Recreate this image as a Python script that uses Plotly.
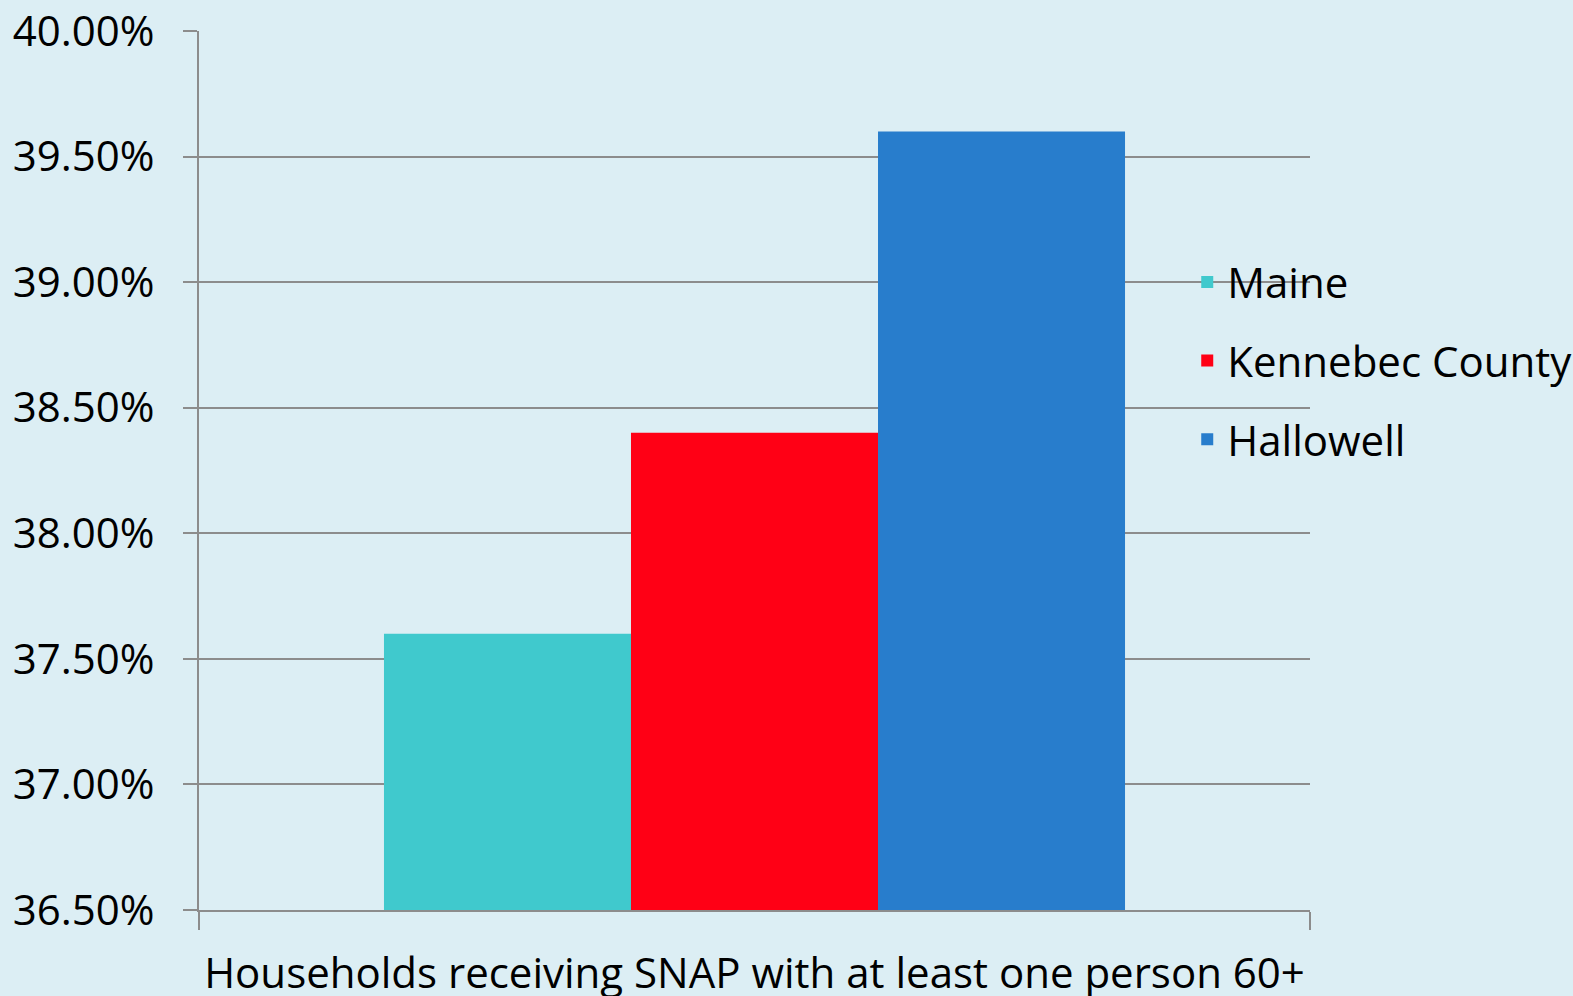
import plotly.graph_objects as go

# values (percent)
category = ["Households receiving SNAP with at least one person 60+"]
places = ["Maine", "Kennebec County", "Hallowell"]
share = [37.6, 38.4, 39.6]
colors = ["#40C9CD", "#FF0015", "#287DCC"]

y_ticks = [36.5, 37.0, 37.5, 38.0, 38.5, 39.0, 39.5, 40.0]
y_labels = ["36.50%", "37.00%", "37.50%", "38.00%", "38.50%", "39.00%", "39.50%", "40.00%"]

bg = "#DCEEF4"
grid = "#8C8C8C"
font = "Open Sans"

fig = go.Figure()
for name, val, col in zip(places, share, colors):
    fig.add_trace(go.Bar(x=category, y=[val], name=name, legendgroup=name,
                         marker=dict(color=col, line=dict(width=0))))

fig.update_layout(
    width=1573, height=996,
    paper_bgcolor=bg, plot_bgcolor=bg,
    margin=dict(l=199, r=263, t=31, b=86, autoexpand=False),
    barmode="group", bargap=0.333, bargroupgap=0,
    font=dict(family=font, size=42, color="black"),
    showlegend=True,
    legend=dict(x=0.8895, y=0.625, xanchor="left", yanchor="middle",
                bgcolor="rgba(0,0,0,0)", font=dict(size=42),
                tracegroupgap=21, itemwidth=30),
    xaxis=dict(showline=True, linecolor=grid, linewidth=2,
               ticks="outside", tickson="boundaries", ticklen=18,
               tickcolor=grid, tickwidth=2, ticklabelstandoff=26,
               tickangle=0, automargin=False,
               showgrid=False, tickfont=dict(size=42)),
    yaxis=dict(range=[36.5, 40.0], tickvals=y_ticks, ticktext=y_labels,
               showline=True, linecolor=grid, linewidth=2,
               ticks="outside", ticklen=14, tickcolor=grid, tickwidth=2,
               ticklabelstandoff=20, automargin=False,
               showgrid=True, gridcolor=grid, gridwidth=2,
               zeroline=False, tickfont=dict(size=42)),
)

fig.write_html("out.html", config={"displayModeBar": False},
               post_script="document.body.style.margin='0';document.body.style.overflow='hidden';")
